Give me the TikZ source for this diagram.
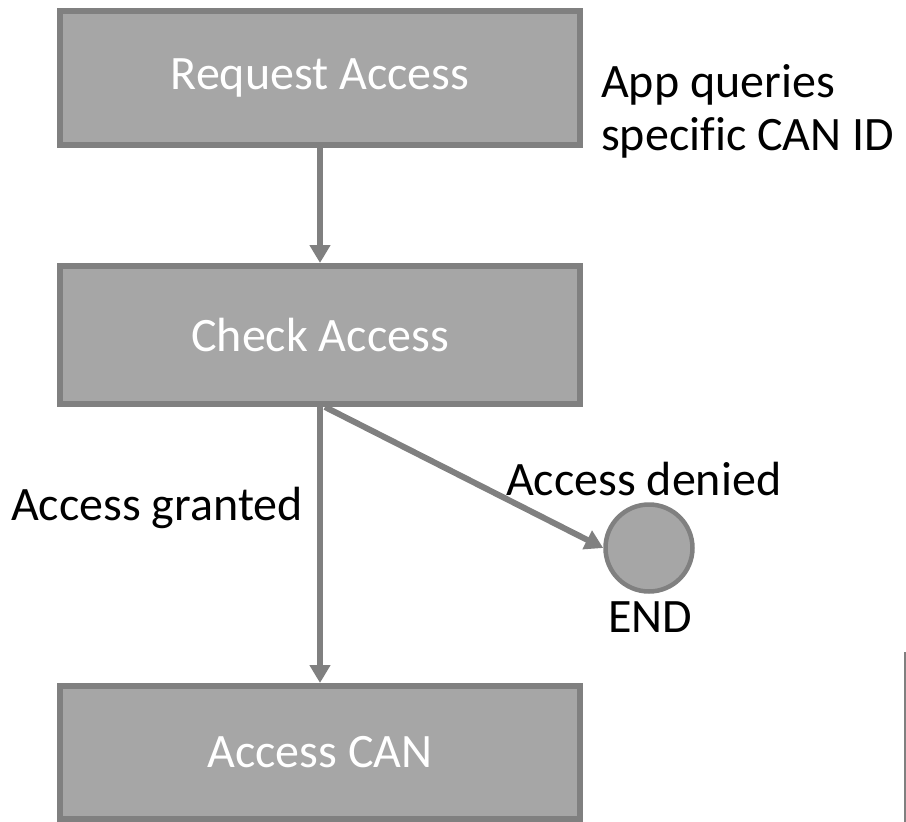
\documentclass[tikz,border=0pt]{standalone}
\usepackage{fontspec}
\setmainfont[Ligatures=NoCommon]{Carlito}
\usetikzlibrary{arrows.meta,calc}
\definecolor{boxfill}{HTML}{A6A6A6}
\definecolor{boxline}{HTML}{808080}
\begin{document}
\begin{tikzpicture}[x=1pt,y=-1pt,
  stepbox/.style={draw=boxline,fill=boxfill,line width=6pt,minimum width=520pt,
    inner sep=0pt,text=white,font=\fontsize{48}{54}\selectfont},
  flow/.style={draw=boxline,line width=6pt,-{Triangle[width=20pt,length=18pt]}},
  lbl/.style={inner sep=0pt,text=black,font=\fontsize{48}{53}\selectfont},
  endnode/.style={circle,draw=boxline,fill=boxfill,line width=4.5pt,minimum size=87pt,inner sep=0pt}]
\useasboundingbox (0,0) rectangle (906,822);
\node[stepbox,minimum height=134pt] (req) at (320,78) {Request Access};
\node[stepbox,minimum height=138pt] (chk) at (320,335) {Check Access};
\node[stepbox,minimum height=133pt] (acc) at (320,752.5) {Access CAN};
\node[endnode] (endc) at (649,548) {};
\draw[flow] (req.south) -- (chk.north);
\draw[flow] (chk.south) -- (acc.north);
\coordinate (dstart) at ($(chk.south)+(5,0)$);
\draw[flow] (dstart) -- (endc.west);
\node[lbl,anchor=base west,align=left] (appq) at (601,150) {App queries\\specific CAN ID};
\node[lbl,anchor=base west] (granted) at (11,520) {Access granted};
\node[lbl,anchor=base west] (denied) at (506,495) {Access denied};
\node[lbl,anchor=base] (endlbl) at (650,632) {END};
\coordinate (edgetop) at (905,652);
\coordinate (edgebot) at (905,822);
\draw[boxline,line width=1.2pt] (edgetop) -- (edgebot);
\end{tikzpicture}
\end{document}
